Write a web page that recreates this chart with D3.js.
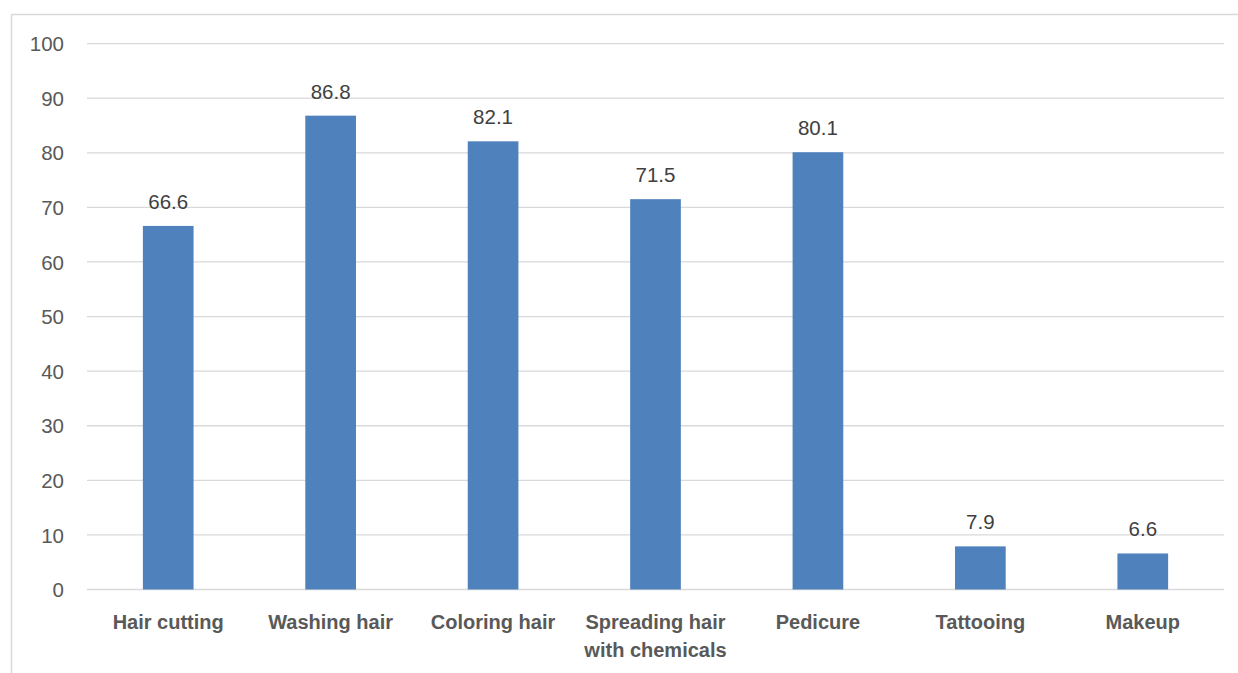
<!DOCTYPE html>
<html>
<head>
<meta charset="utf-8">
<script src="https://cdn.jsdelivr.net/npm/d3@7"></script>
<style>
  html, body { margin: 0; padding: 0; background: #fff; }
  svg { display: block; }
</style>
</head>
<body>
<svg id="chart" width="1238" height="673"></svg>
<script>
const categories = ["Hair cutting", "Washing hair", "Coloring hair", "Spreading hair with chemicals", "Pedicure", "Tattooing", "Makeup"];
const categoryLines = [["Hair cutting"], ["Washing hair"], ["Coloring hair"], ["Spreading hair", "with chemicals"], ["Pedicure"], ["Tattooing"], ["Makeup"]];
const values = [66.6, 86.8, 82.1, 71.5, 80.1, 7.9, 6.6];
const yTicks = [0, 10, 20, 30, 40, 50, 60, 70, 80, 90, 100];

(function () {
const svg = d3.select("#chart");
const plotLeft = 87, plotRight = 1224, plotTop = 43.6, plotBottom = 589.5;
const font = "'Liberation Sans', Arial, sans-serif";
const textColor = "#595959";

// outer chart border
svg.append("rect")
  .attr("x", 11.5).attr("y", 14.5)
  .attr("width", 1400).attr("height", 800)
  .attr("fill", "none").attr("stroke", "#d9d9d9").attr("stroke-width", 1.5);

const x = d3.scaleBand().domain(categories).range([plotLeft, plotRight]).paddingInner(0.688).paddingOuter(0.344);
const y = d3.scaleLinear().domain([0, 100]).range([plotBottom, plotTop]);

// gridlines
svg.append("g").selectAll("line").data(yTicks).join("line")
  .attr("x1", plotLeft).attr("x2", plotRight)
  .attr("y1", d => y(d)).attr("y2", d => y(d))
  .attr("stroke", "#d9d9d9").attr("stroke-width", 1.3);

// y axis labels
const yAxis = d3.axisLeft(y).tickValues(yTicks).tickSize(0).tickPadding(0);
const yg = svg.append("g").attr("transform", `translate(${plotLeft - 23},0)`).call(yAxis);
yg.select(".domain").remove();
yg.selectAll("text").attr("font-family", font).attr("font-size", 20.5).attr("fill", textColor).attr("dy", "0.35em");

// bars
svg.append("g").selectAll("rect").data(values).join("rect")
  .attr("x", (d, i) => x(categories[i]))
  .attr("width", x.bandwidth())
  .attr("y", d => y(d))
  .attr("height", d => y(0) - y(d))
  .attr("fill", "#4F81BD");

// value labels
svg.append("g").selectAll("text").data(values).join("text")
  .attr("x", (d, i) => x(categories[i]) + x.bandwidth() / 2)
  .attr("y", d => y(d) - 17)
  .attr("text-anchor", "middle")
  .attr("font-family", font).attr("font-size", 20.5).attr("fill", "#404040")
  .text(d => d);

// category labels
const cg = svg.append("g");
categories.forEach((c, i) => {
  const t = cg.append("text")
    .attr("x", x(c) + x.bandwidth() / 2)
    .attr("y", 629)
    .attr("text-anchor", "middle")
    .attr("font-family", font).attr("font-size", 20).attr("font-weight", "bold").attr("fill", textColor);
  categoryLines[i].forEach((line, j) => {
    t.append("tspan").attr("x", x(c) + x.bandwidth() / 2).attr("dy", j === 0 ? 0 : 28).text(line);
  });
});
})();
</script>
</body>
</html>
